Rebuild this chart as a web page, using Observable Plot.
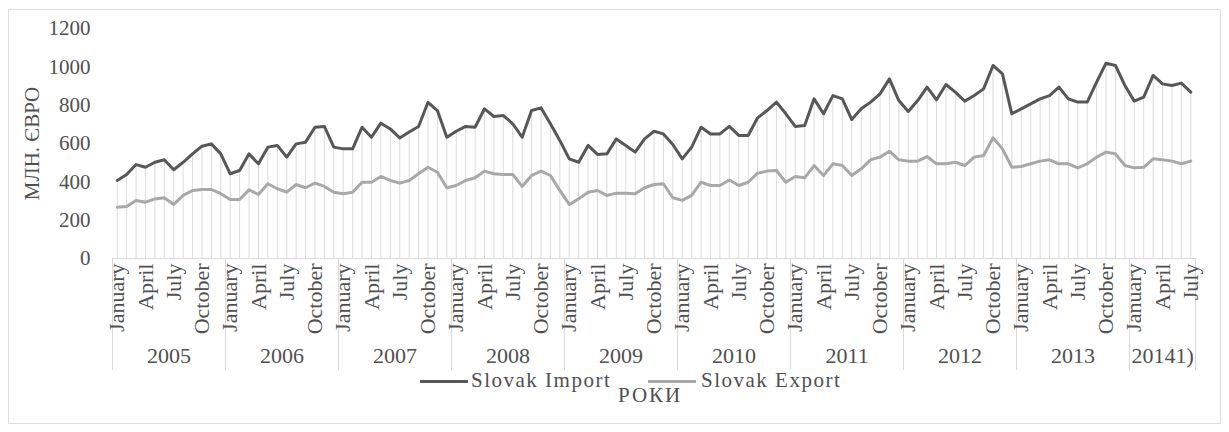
<!DOCTYPE html>
<html>
<head>
<meta charset="utf-8">
<script src="https://cdn.jsdelivr.net/npm/d3@7"></script>
<script src="https://cdn.jsdelivr.net/npm/@observablehq/plot@0.6"></script>
<style>
  html, body { margin: 0; padding: 0; background: #fff; }
  #wrap { position: relative; width: 1229px; height: 432px; overflow: hidden; font-family: "Liberation Serif", "DejaVu Serif", serif; color: #555; }
  #frame { position: absolute; left: 8px; top: 9px; width: 1213px; height: 415px; border: 1.5px solid #dedede; box-sizing: border-box; }
  #chart { position: absolute; left: 0; top: 0; }
  .lg { position: absolute; white-space: nowrap; line-height: 1; font-family: "Liberation Serif", serif; }
  .sw { position: absolute; height: 3px; }
</style>
</head>
<body>
<div id="wrap">
  <div id="frame"></div>
  <div id="chart"></div>
  <div id="legend"></div>
</div>
<script>
// ---- data (million EUR, monthly, Jan 2005 – Jul 2014) ----
const seriesNames = ["Slovak Import", "Slovak Export"];
const yearLabels = ["2005", "2006", "2007", "2008", "2009", "2010", "2011", "2012", "2013", "20141)"];
const monthTickLabels = ["January", "April", "July", "October"];
const yTicks = [0, 200, 400, 600, 800, 1000, 1200];
const yTitle = "МЛН. ЄВРО";
const xTitle = "РОКИ";

const slovakImport = [
  407, 438, 490, 476, 502, 515, 463, 502, 546, 586, 598, 546,
  442, 459, 546, 494, 581, 590, 529, 598, 607, 685, 689, 581,
  572, 572, 685, 633, 706, 676, 629, 660, 689, 815, 772, 633,
  664, 689, 685, 781, 741, 746, 703, 633, 772, 786, 703, 616,
  520, 502, 590, 543, 546, 624, 590, 555, 624, 664, 650, 595,
  520, 581, 685, 650, 650, 689, 642, 642, 734, 772, 816, 755,
  689, 694, 833, 755, 850, 833, 725, 781, 816, 859, 937, 824,
  767, 824, 894, 828, 908, 868, 821, 850, 885, 1007, 963, 755,
  781, 807, 833, 850, 894, 833, 816, 816, 920, 1019, 1007, 903,
  821, 842, 955, 911, 903, 915, 868
];
const slovakExport = [
  268, 271, 303, 294, 311, 317, 282, 329, 355, 360, 360, 338,
  308, 308, 358, 334, 390, 364, 346, 386, 369, 393, 376, 346,
  338, 346, 398, 398, 428, 407, 393, 407, 442, 476, 450, 369,
  381, 407, 421, 456, 442, 438, 438, 376, 433, 456, 433, 355,
  282, 311, 346, 355, 329, 341, 341, 338, 369, 386, 390, 317,
  303, 329, 398, 381, 381, 410, 381, 398, 445, 456, 459, 398,
  428, 421, 485, 433, 494, 485, 433, 468, 515, 529, 560, 515,
  508, 508, 532, 494, 494, 502, 485, 529, 537, 630, 572, 476,
  480, 494, 508, 515, 494, 494, 473, 494, 529, 555, 546, 485,
  473, 476, 520, 515, 508, 494, 508
];

// ---- derived tables ----
const n = slovakImport.length;
const data = slovakImport.map((v, i) => ({i, imp: v, exp: slovakExport[i]}));
const quarterTicks = d3.range(0, n, 3);
const yearBounds = yearLabels.map((_, k) => k * 12 - 0.5).concat([n - 0.5]);
const yearCenters = yearLabels.map((_, k) => (yearBounds[k] + yearBounds[k + 1]) / 2);

const textColor = "#505050";
const importColor = "#575757";
const exportColor = "#a8a8a8";

const chart = Plot.plot({
  width: 1229,
  height: 372,
  marginLeft: 112,
  marginRight: 34,
  marginTop: 28,
  marginBottom: 114,
  style: {fontFamily: '"Liberation Serif", serif', color: textColor, background: "transparent", overflow: "visible"},
  x: {type: "linear", domain: [-0.5, n - 0.5]},
  y: {domain: [0, 1200]},
  marks: [
    Plot.ruleX(data, {x: "i", y1: 0, y2: "imp", stroke: "#dcdcdc", strokeWidth: 1}),
    Plot.ruleY([0], {stroke: "#d9d9d9", strokeWidth: 1}),
    Plot.axisY({
      ticks: yTicks, tickSize: 0, tickPadding: 22, fontSize: 21,
      tickFormat: d => String(d),
      label: yTitle, labelAnchor: "center", labelArrow: "none", labelOffset: 88,
      style: {letterSpacing: "1.5px"}
    }),
    Plot.axisX({ticks: yearBounds, tickSize: 112, tickFormat: () => "", stroke: "#d9d9d9", label: null}),
    Plot.axisX({
      ticks: quarterTicks, tickSize: 0, tickPadding: 5, tickRotate: -90, fontSize: 22,
      tickFormat: d => monthTickLabels[Math.round(d) % 12 / 3], label: null
    }),
    Plot.axisX({
      ticks: yearCenters, tickSize: 0, tickPadding: 89, fontSize: 22,
      tickFormat: d => yearLabels[yearCenters.indexOf(d)], label: null,
      style: {letterSpacing: "2px"}
    }),
    Plot.lineY(data, {x: "i", y: "exp", stroke: exportColor, strokeWidth: 3}),
    Plot.lineY(data, {x: "i", y: "imp", stroke: importColor, strokeWidth: 3})
  ]
});
document.getElementById("chart").appendChild(chart);

// ---- legend (below the SVG) ----
const legend = document.getElementById("legend");
function item(color, name, lineLeft, textLeft) {
  const sw = document.createElement("div");
  sw.className = "sw";
  sw.style.cssText = `left:${lineLeft}px;top:380px;width:48px;background:${color};`;
  legend.appendChild(sw);
  const t = document.createElement("div");
  t.className = "lg";
  t.style.cssText = `left:${textLeft}px;top:370px;font-size:21px;letter-spacing:1.5px;color:${textColor};`;
  t.textContent = name;
  legend.appendChild(t);
}
item(importColor, seriesNames[0], 420, 471);
item(exportColor, seriesNames[1], 648, 701);
const xt = document.createElement("div");
xt.className = "lg";
xt.style.cssText = `left:618px;top:385px;font-size:21px;letter-spacing:2px;color:${textColor};`;
xt.textContent = xTitle;
legend.appendChild(xt);
</script>
</body>
</html>
